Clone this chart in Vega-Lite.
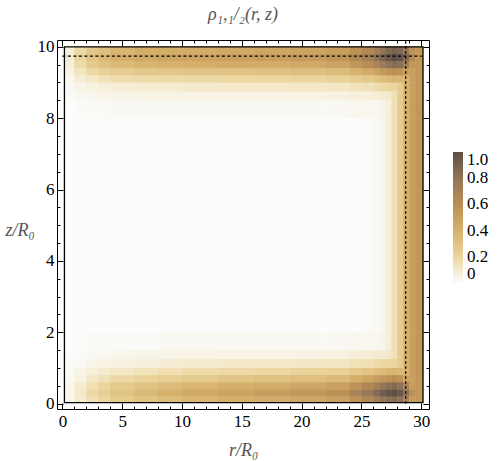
{
"$schema": "https://vega.github.io/schema/vega-lite/v6.json",
"width": 372, "height": 369,
"autosize": "none",
"padding": {"left": 57, "top": 40, "right": 70, "bottom": 52},
"background": "white",
"title": {"text": "ρ₁,₁/₂(r, z)", "font": "Liberation Serif", "fontSize": 18, "fontStyle": "italic", "fontWeight": "normal", "color": "#555555", "offset": 14, "anchor": "middle"},
"datasets": {
"density": [
{"r":0.17,"r2":1,"z":0.03,"z2":0.2,"v":0.03},{"r":1,"r2":2,"z":0.03,"z2":0.2,"v":0.09},{"r":2,"r2":3,"z":0.03,"z2":0.2,"v":0.15},{"r":3,"r2":4,"z":0.03,"z2":0.2,"v":0.2},{"r":4,"r2":6,"z":0.03,"z2":0.2,"v":0.26},{"r":6,"r2":8,"z":0.03,"z2":0.2,"v":0.3},{"r":8,"r2":10,"z":0.03,"z2":0.2,"v":0.34},{"r":10,"r2":13,"z":0.03,"z2":0.2,"v":0.37},{"r":13,"r2":16,"z":0.03,"z2":0.2,"v":0.41},{"r":16,"r2":19,"z":0.03,"z2":0.2,"v":0.43},{"r":19,"r2":22,"z":0.03,"z2":0.2,"v":0.46},{"r":22,"r2":24,"z":0.03,"z2":0.2,"v":0.5},{"r":24,"r2":25,"z":0.03,"z2":0.2,"v":0.58},{"r":25,"r2":26,"z":0.03,"z2":0.2,"v":0.65},{"r":26,"r2":26.5,"z":0.03,"z2":0.2,"v":0.72},{"r":26.5,"r2":27,"z":0.03,"z2":0.2,"v":0.78},{"r":27,"r2":27.5,"z":0.03,"z2":0.2,"v":0.82},{"r":27.5,"r2":28,"z":0.03,"z2":0.2,"v":0.85},{"r":28,"r2":28.5,"z":0.03,"z2":0.2,"v":0.81},{"r":28.5,"r2":29,"z":0.03,"z2":0.2,"v":0.68},{"r":29,"r2":29.5,"z":0.03,"z2":0.2,"v":0.51},{"r":29.5,"r2":30.15,"z":0.03,"z2":0.2,"v":0.55},
{"r":0.17,"r2":1,"z":0.2,"z2":0.4,"v":0.03},{"r":1,"r2":2,"z":0.2,"z2":0.4,"v":0.1},{"r":2,"r2":3,"z":0.2,"z2":0.4,"v":0.18},{"r":3,"r2":4,"z":0.2,"z2":0.4,"v":0.24},{"r":4,"r2":6,"z":0.2,"z2":0.4,"v":0.3},{"r":6,"r2":8,"z":0.2,"z2":0.4,"v":0.35},{"r":8,"r2":10,"z":0.2,"z2":0.4,"v":0.4},{"r":10,"r2":13,"z":0.2,"z2":0.4,"v":0.44},{"r":13,"r2":16,"z":0.2,"z2":0.4,"v":0.48},{"r":16,"r2":19,"z":0.2,"z2":0.4,"v":0.51},{"r":19,"r2":22,"z":0.2,"z2":0.4,"v":0.54},{"r":22,"r2":24,"z":0.2,"z2":0.4,"v":0.59},{"r":24,"r2":25,"z":0.2,"z2":0.4,"v":0.68},{"r":25,"r2":26,"z":0.2,"z2":0.4,"v":0.76},{"r":26,"r2":26.5,"z":0.2,"z2":0.4,"v":0.85},{"r":26.5,"r2":27,"z":0.2,"z2":0.4,"v":0.92},{"r":27,"r2":27.5,"z":0.2,"z2":0.4,"v":0.97},{"r":27.5,"r2":28,"z":0.2,"z2":0.4,"v":1.0},{"r":28,"r2":28.5,"z":0.2,"z2":0.4,"v":0.95},{"r":28.5,"r2":29,"z":0.2,"z2":0.4,"v":0.8},{"r":29,"r2":29.5,"z":0.2,"z2":0.4,"v":0.6},{"r":29.5,"r2":30.15,"z":0.2,"z2":0.4,"v":0.55},
{"r":0.17,"r2":1,"z":0.4,"z2":0.6,"v":0.03},{"r":1,"r2":2,"z":0.4,"z2":0.6,"v":0.09},{"r":2,"r2":3,"z":0.4,"z2":0.6,"v":0.15},{"r":3,"r2":4,"z":0.4,"z2":0.6,"v":0.2},{"r":4,"r2":6,"z":0.4,"z2":0.6,"v":0.26},{"r":6,"r2":8,"z":0.4,"z2":0.6,"v":0.3},{"r":8,"r2":10,"z":0.4,"z2":0.6,"v":0.34},{"r":10,"r2":13,"z":0.4,"z2":0.6,"v":0.37},{"r":13,"r2":16,"z":0.4,"z2":0.6,"v":0.41},{"r":16,"r2":19,"z":0.4,"z2":0.6,"v":0.43},{"r":19,"r2":22,"z":0.4,"z2":0.6,"v":0.46},{"r":22,"r2":24,"z":0.4,"z2":0.6,"v":0.5},{"r":24,"r2":25,"z":0.4,"z2":0.6,"v":0.58},{"r":25,"r2":26,"z":0.4,"z2":0.6,"v":0.65},{"r":26,"r2":26.5,"z":0.4,"z2":0.6,"v":0.72},{"r":26.5,"r2":27,"z":0.4,"z2":0.6,"v":0.78},{"r":27,"r2":27.5,"z":0.4,"z2":0.6,"v":0.82},{"r":27.5,"r2":28,"z":0.4,"z2":0.6,"v":0.85},{"r":28,"r2":28.5,"z":0.4,"z2":0.6,"v":0.81},{"r":28.5,"r2":29,"z":0.4,"z2":0.6,"v":0.68},{"r":29,"r2":29.5,"z":0.4,"z2":0.6,"v":0.51},{"r":29.5,"r2":30.15,"z":0.4,"z2":0.6,"v":0.55},
{"r":0.17,"r2":1,"z":0.6,"z2":0.8,"v":0.02},{"r":1,"r2":2,"z":0.6,"z2":0.8,"v":0.06},{"r":2,"r2":3,"z":0.6,"z2":0.8,"v":0.11},{"r":3,"r2":4,"z":0.6,"z2":0.8,"v":0.14},{"r":4,"r2":6,"z":0.6,"z2":0.8,"v":0.18},{"r":6,"r2":8,"z":0.6,"z2":0.8,"v":0.21},{"r":8,"r2":10,"z":0.6,"z2":0.8,"v":0.24},{"r":10,"r2":13,"z":0.6,"z2":0.8,"v":0.26},{"r":13,"r2":16,"z":0.6,"z2":0.8,"v":0.29},{"r":16,"r2":19,"z":0.6,"z2":0.8,"v":0.31},{"r":19,"r2":22,"z":0.6,"z2":0.8,"v":0.32},{"r":22,"r2":24,"z":0.6,"z2":0.8,"v":0.35},{"r":24,"r2":25,"z":0.6,"z2":0.8,"v":0.41},{"r":25,"r2":26,"z":0.6,"z2":0.8,"v":0.46},{"r":26,"r2":26.5,"z":0.6,"z2":0.8,"v":0.51},{"r":26.5,"r2":27,"z":0.6,"z2":0.8,"v":0.55},{"r":27,"r2":27.5,"z":0.6,"z2":0.8,"v":0.58},{"r":27.5,"r2":28,"z":0.6,"z2":0.8,"v":0.6},{"r":28,"r2":28.5,"z":0.6,"z2":0.8,"v":0.57},{"r":28.5,"r2":29,"z":0.6,"z2":0.8,"v":0.48},{"r":29,"r2":29.5,"z":0.6,"z2":0.8,"v":0.5},{"r":29.5,"r2":30.15,"z":0.6,"z2":0.8,"v":0.55},
{"r":0.17,"r2":1,"z":0.8,"z2":1,"v":0.01},{"r":1,"r2":2,"z":0.8,"z2":1,"v":0.04},{"r":2,"r2":3,"z":0.8,"z2":1,"v":0.07},{"r":3,"r2":4,"z":0.8,"z2":1,"v":0.09},{"r":4,"r2":6,"z":0.8,"z2":1,"v":0.11},{"r":6,"r2":8,"z":0.8,"z2":1,"v":0.13},{"r":8,"r2":10,"z":0.8,"z2":1,"v":0.15},{"r":10,"r2":13,"z":0.8,"z2":1,"v":0.17},{"r":13,"r2":16,"z":0.8,"z2":1,"v":0.18},{"r":16,"r2":19,"z":0.8,"z2":1,"v":0.19},{"r":19,"r2":22,"z":0.8,"z2":1,"v":0.21},{"r":22,"r2":24,"z":0.8,"z2":1,"v":0.22},{"r":24,"r2":25,"z":0.8,"z2":1,"v":0.26},{"r":25,"r2":26,"z":0.8,"z2":1,"v":0.29},{"r":26,"r2":26.5,"z":0.8,"z2":1,"v":0.32},{"r":26.5,"r2":27,"z":0.8,"z2":1,"v":0.35},{"r":27,"r2":27.5,"z":0.8,"z2":1,"v":0.37},{"r":27.5,"r2":28,"z":0.8,"z2":1,"v":0.38},{"r":28,"r2":28.5,"z":0.8,"z2":1,"v":0.36},{"r":28.5,"r2":29,"z":0.8,"z2":1,"v":0.39},{"r":29,"r2":29.5,"z":0.8,"z2":1,"v":0.5},{"r":29.5,"r2":30.15,"z":0.8,"z2":1,"v":0.55},
{"r":0.17,"r2":1,"z":1,"z2":1.25,"v":0.01},{"r":1,"r2":2,"z":1,"z2":1.25,"v":0.02},{"r":2,"r2":3,"z":1,"z2":1.25,"v":0.04},{"r":3,"r2":4,"z":1,"z2":1.25,"v":0.05},{"r":4,"r2":6,"z":1,"z2":1.25,"v":0.06},{"r":6,"r2":8,"z":1,"z2":1.25,"v":0.07},{"r":8,"r2":10,"z":1,"z2":1.25,"v":0.08},{"r":10,"r2":13,"z":1,"z2":1.25,"v":0.09},{"r":13,"r2":16,"z":1,"z2":1.25,"v":0.1},{"r":16,"r2":19,"z":1,"z2":1.25,"v":0.1},{"r":19,"r2":22,"z":1,"z2":1.25,"v":0.11},{"r":22,"r2":24,"z":1,"z2":1.25,"v":0.12},{"r":24,"r2":25,"z":1,"z2":1.25,"v":0.14},{"r":25,"r2":26,"z":1,"z2":1.25,"v":0.15},{"r":26,"r2":26.5,"z":1,"z2":1.25,"v":0.17},{"r":26.5,"r2":27,"z":1,"z2":1.25,"v":0.18},{"r":27,"r2":27.5,"z":1,"z2":1.25,"v":0.19},{"r":27.5,"r2":28,"z":1,"z2":1.25,"v":0.2},{"r":28,"r2":28.5,"z":1,"z2":1.25,"v":0.25},{"r":28.5,"r2":29,"z":1,"z2":1.25,"v":0.39},{"r":29,"r2":29.5,"z":1,"z2":1.25,"v":0.5},{"r":29.5,"r2":30.15,"z":1,"z2":1.25,"v":0.55},
{"r":0.17,"r2":1,"z":1.25,"z2":1.5,"v":0},{"r":1,"r2":2,"z":1.25,"z2":1.5,"v":0.01},{"r":2,"r2":3,"z":1.25,"z2":1.5,"v":0.02},{"r":3,"r2":4,"z":1.25,"z2":1.5,"v":0.02},{"r":4,"r2":6,"z":1.25,"z2":1.5,"v":0.03},{"r":6,"r2":8,"z":1.25,"z2":1.5,"v":0.04},{"r":8,"r2":10,"z":1.25,"z2":1.5,"v":0.04},{"r":10,"r2":13,"z":1.25,"z2":1.5,"v":0.04},{"r":13,"r2":16,"z":1.25,"z2":1.5,"v":0.05},{"r":16,"r2":19,"z":1.25,"z2":1.5,"v":0.05},{"r":19,"r2":22,"z":1.25,"z2":1.5,"v":0.05},{"r":22,"r2":24,"z":1.25,"z2":1.5,"v":0.06},{"r":24,"r2":25,"z":1.25,"z2":1.5,"v":0.07},{"r":25,"r2":26,"z":1.25,"z2":1.5,"v":0.08},{"r":26,"r2":26.5,"z":1.25,"z2":1.5,"v":0.09},{"r":26.5,"r2":27,"z":1.25,"z2":1.5,"v":0.09},{"r":27,"r2":27.5,"z":1.25,"z2":1.5,"v":0.1},{"r":27.5,"r2":28,"z":1.25,"z2":1.5,"v":0.14},{"r":28,"r2":28.5,"z":1.25,"z2":1.5,"v":0.25},{"r":28.5,"r2":29,"z":1.25,"z2":1.5,"v":0.39},{"r":29,"r2":29.5,"z":1.25,"z2":1.5,"v":0.5},{"r":29.5,"r2":30.15,"z":1.25,"z2":1.5,"v":0.55},
{"r":0.17,"r2":1,"z":1.5,"z2":2,"v":0},{"r":1,"r2":2,"z":1.5,"z2":2,"v":0},{"r":2,"r2":3,"z":1.5,"z2":2,"v":0.01},{"r":3,"r2":4,"z":1.5,"z2":2,"v":0.01},{"r":4,"r2":6,"z":1.5,"z2":2,"v":0.01},{"r":6,"r2":8,"z":1.5,"z2":2,"v":0.01},{"r":8,"r2":10,"z":1.5,"z2":2,"v":0.02},{"r":10,"r2":13,"z":1.5,"z2":2,"v":0.02},{"r":13,"r2":16,"z":1.5,"z2":2,"v":0.02},{"r":16,"r2":19,"z":1.5,"z2":2,"v":0.02},{"r":19,"r2":22,"z":1.5,"z2":2,"v":0.02},{"r":22,"r2":24,"z":1.5,"z2":2,"v":0.02},{"r":24,"r2":25,"z":1.5,"z2":2,"v":0.03},{"r":25,"r2":26,"z":1.5,"z2":2,"v":0.03},{"r":26,"r2":26.5,"z":1.5,"z2":2,"v":0.03},{"r":26.5,"r2":27,"z":1.5,"z2":2,"v":0.04},{"r":27,"r2":27.5,"z":1.5,"z2":2,"v":0.07},{"r":27.5,"r2":28,"z":1.5,"z2":2,"v":0.14},{"r":28,"r2":28.5,"z":1.5,"z2":2,"v":0.25},{"r":28.5,"r2":29,"z":1.5,"z2":2,"v":0.39},{"r":29,"r2":29.5,"z":1.5,"z2":2,"v":0.5},{"r":29.5,"r2":30.15,"z":1.5,"z2":2,"v":0.55},
{"r":0.17,"r2":25,"z":2,"z2":8,"v":0},{"r":25,"r2":26,"z":2,"z2":8,"v":0.01},{"r":26,"r2":26.5,"z":2,"z2":8,"v":0.02},{"r":26.5,"r2":27,"z":2,"z2":8,"v":0.03},{"r":27,"r2":27.5,"z":2,"z2":8,"v":0.07},{"r":27.5,"r2":28,"z":2,"z2":8,"v":0.14},{"r":28,"r2":28.5,"z":2,"z2":8,"v":0.25},{"r":28.5,"r2":29,"z":2,"z2":8,"v":0.39},{"r":29,"r2":29.5,"z":2,"z2":8,"v":0.5},{"r":29.5,"r2":30.15,"z":2,"z2":8,"v":0.55},
{"r":0.17,"r2":1,"z":8,"z2":8.5,"v":0},{"r":1,"r2":2,"z":8,"z2":8.5,"v":0.01},{"r":2,"r2":3,"z":8,"z2":8.5,"v":0.01},{"r":3,"r2":4,"z":8,"z2":8.5,"v":0.01},{"r":4,"r2":6,"z":8,"z2":8.5,"v":0.02},{"r":6,"r2":8,"z":8,"z2":8.5,"v":0.02},{"r":8,"r2":10,"z":8,"z2":8.5,"v":0.02},{"r":10,"r2":13,"z":8,"z2":8.5,"v":0.02},{"r":13,"r2":16,"z":8,"z2":8.5,"v":0.02},{"r":16,"r2":19,"z":8,"z2":8.5,"v":0.02},{"r":19,"r2":22,"z":8,"z2":8.5,"v":0.02},{"r":22,"r2":24,"z":8,"z2":8.5,"v":0.02},{"r":24,"r2":25,"z":8,"z2":8.5,"v":0.03},{"r":25,"r2":26,"z":8,"z2":8.5,"v":0.03},{"r":26,"r2":26.5,"z":8,"z2":8.5,"v":0.03},{"r":26.5,"r2":27,"z":8,"z2":8.5,"v":0.04},{"r":27,"r2":27.5,"z":8,"z2":8.5,"v":0.07},{"r":27.5,"r2":28,"z":8,"z2":8.5,"v":0.14},{"r":28,"r2":28.5,"z":8,"z2":8.5,"v":0.25},{"r":28.5,"r2":29,"z":8,"z2":8.5,"v":0.39},{"r":29,"r2":29.5,"z":8,"z2":8.5,"v":0.5},{"r":29.5,"r2":30.15,"z":8,"z2":8.5,"v":0.55},
{"r":0.17,"r2":1,"z":8.5,"z2":8.75,"v":0.01},{"r":1,"r2":2,"z":8.5,"z2":8.75,"v":0.02},{"r":2,"r2":3,"z":8.5,"z2":8.75,"v":0.03},{"r":3,"r2":4,"z":8.5,"z2":8.75,"v":0.04},{"r":4,"r2":6,"z":8.5,"z2":8.75,"v":0.04},{"r":6,"r2":8,"z":8.5,"z2":8.75,"v":0.05},{"r":8,"r2":10,"z":8.5,"z2":8.75,"v":0.05},{"r":10,"r2":13,"z":8.5,"z2":8.75,"v":0.05},{"r":13,"r2":16,"z":8.5,"z2":8.75,"v":0.05},{"r":16,"r2":19,"z":8.5,"z2":8.75,"v":0.05},{"r":19,"r2":22,"z":8.5,"z2":8.75,"v":0.05},{"r":22,"r2":24,"z":8.5,"z2":8.75,"v":0.06},{"r":24,"r2":25,"z":8.5,"z2":8.75,"v":0.07},{"r":25,"r2":26,"z":8.5,"z2":8.75,"v":0.07},{"r":26,"r2":26.5,"z":8.5,"z2":8.75,"v":0.08},{"r":26.5,"r2":27,"z":8.5,"z2":8.75,"v":0.09},{"r":27,"r2":27.5,"z":8.5,"z2":8.75,"v":0.1},{"r":27.5,"r2":28,"z":8.5,"z2":8.75,"v":0.14},{"r":28,"r2":28.5,"z":8.5,"z2":8.75,"v":0.25},{"r":28.5,"r2":29,"z":8.5,"z2":8.75,"v":0.39},{"r":29,"r2":29.5,"z":8.5,"z2":8.75,"v":0.5},{"r":29.5,"r2":30.15,"z":8.5,"z2":8.75,"v":0.55},
{"r":0.17,"r2":1,"z":8.75,"z2":9,"v":0.02},{"r":1,"r2":2,"z":8.75,"z2":9,"v":0.04},{"r":2,"r2":3,"z":8.75,"z2":9,"v":0.06},{"r":3,"r2":4,"z":8.75,"z2":9,"v":0.07},{"r":4,"r2":6,"z":8.75,"z2":9,"v":0.08},{"r":6,"r2":8,"z":8.75,"z2":9,"v":0.09},{"r":8,"r2":10,"z":8.75,"z2":9,"v":0.09},{"r":10,"r2":13,"z":8.75,"z2":9,"v":0.1},{"r":13,"r2":16,"z":8.75,"z2":9,"v":0.1},{"r":16,"r2":19,"z":8.75,"z2":9,"v":0.1},{"r":19,"r2":22,"z":8.75,"z2":9,"v":0.11},{"r":22,"r2":24,"z":8.75,"z2":9,"v":0.11},{"r":24,"r2":25,"z":8.75,"z2":9,"v":0.13},{"r":25,"r2":26,"z":8.75,"z2":9,"v":0.14},{"r":26,"r2":26.5,"z":8.75,"z2":9,"v":0.16},{"r":26.5,"r2":27,"z":8.75,"z2":9,"v":0.18},{"r":27,"r2":27.5,"z":8.75,"z2":9,"v":0.19},{"r":27.5,"r2":28,"z":8.75,"z2":9,"v":0.2},{"r":28,"r2":28.5,"z":8.75,"z2":9,"v":0.25},{"r":28.5,"r2":29,"z":8.75,"z2":9,"v":0.39},{"r":29,"r2":29.5,"z":8.75,"z2":9,"v":0.5},{"r":29.5,"r2":30.15,"z":8.75,"z2":9,"v":0.55},
{"r":0.17,"r2":1,"z":9,"z2":9.2,"v":0.03},{"r":1,"r2":2,"z":9,"z2":9.2,"v":0.08},{"r":2,"r2":3,"z":9,"z2":9.2,"v":0.11},{"r":3,"r2":4,"z":9,"z2":9.2,"v":0.14},{"r":4,"r2":6,"z":9,"z2":9.2,"v":0.16},{"r":6,"r2":8,"z":9,"z2":9.2,"v":0.17},{"r":8,"r2":10,"z":9,"z2":9.2,"v":0.18},{"r":10,"r2":13,"z":9,"z2":9.2,"v":0.18},{"r":13,"r2":16,"z":9,"z2":9.2,"v":0.19},{"r":16,"r2":19,"z":9,"z2":9.2,"v":0.19},{"r":19,"r2":22,"z":9,"z2":9.2,"v":0.2},{"r":22,"r2":24,"z":9,"z2":9.2,"v":0.22},{"r":24,"r2":25,"z":9,"z2":9.2,"v":0.25},{"r":25,"r2":26,"z":9,"z2":9.2,"v":0.27},{"r":26,"r2":26.5,"z":9,"z2":9.2,"v":0.3},{"r":26.5,"r2":27,"z":9,"z2":9.2,"v":0.33},{"r":27,"r2":27.5,"z":9,"z2":9.2,"v":0.36},{"r":27.5,"r2":28,"z":9,"z2":9.2,"v":0.38},{"r":28,"r2":28.5,"z":9,"z2":9.2,"v":0.37},{"r":28.5,"r2":29,"z":9,"z2":9.2,"v":0.39},{"r":29,"r2":29.5,"z":9,"z2":9.2,"v":0.5},{"r":29.5,"r2":30.15,"z":9,"z2":9.2,"v":0.55},
{"r":0.17,"r2":1,"z":9.2,"z2":9.4,"v":0.05},{"r":1,"r2":2,"z":9.2,"z2":9.4,"v":0.12},{"r":2,"r2":3,"z":9.2,"z2":9.4,"v":0.18},{"r":3,"r2":4,"z":9.2,"z2":9.4,"v":0.22},{"r":4,"r2":6,"z":9.2,"z2":9.4,"v":0.25},{"r":6,"r2":8,"z":9.2,"z2":9.4,"v":0.27},{"r":8,"r2":10,"z":9.2,"z2":9.4,"v":0.28},{"r":10,"r2":13,"z":9.2,"z2":9.4,"v":0.29},{"r":13,"r2":16,"z":9.2,"z2":9.4,"v":0.3},{"r":16,"r2":19,"z":9.2,"z2":9.4,"v":0.31},{"r":19,"r2":22,"z":9.2,"z2":9.4,"v":0.32},{"r":22,"r2":24,"z":9.2,"z2":9.4,"v":0.34},{"r":24,"r2":25,"z":9.2,"z2":9.4,"v":0.39},{"r":25,"r2":26,"z":9.2,"z2":9.4,"v":0.43},{"r":26,"r2":26.5,"z":9.2,"z2":9.4,"v":0.48},{"r":26.5,"r2":27,"z":9.2,"z2":9.4,"v":0.53},{"r":27,"r2":27.5,"z":9.2,"z2":9.4,"v":0.57},{"r":27.5,"r2":28,"z":9.2,"z2":9.4,"v":0.6},{"r":28,"r2":28.5,"z":9.2,"z2":9.4,"v":0.58},{"r":28.5,"r2":29,"z":9.2,"z2":9.4,"v":0.51},{"r":29,"r2":29.5,"z":9.2,"z2":9.4,"v":0.5},{"r":29.5,"r2":30.15,"z":9.2,"z2":9.4,"v":0.55},
{"r":0.17,"r2":1,"z":9.4,"z2":9.6,"v":0.07},{"r":1,"r2":2,"z":9.4,"z2":9.6,"v":0.17},{"r":2,"r2":3,"z":9.4,"z2":9.6,"v":0.26},{"r":3,"r2":4,"z":9.4,"z2":9.6,"v":0.31},{"r":4,"r2":6,"z":9.4,"z2":9.6,"v":0.35},{"r":6,"r2":8,"z":9.4,"z2":9.6,"v":0.38},{"r":8,"r2":10,"z":9.4,"z2":9.6,"v":0.4},{"r":10,"r2":13,"z":9.4,"z2":9.6,"v":0.41},{"r":13,"r2":16,"z":9.4,"z2":9.6,"v":0.43},{"r":16,"r2":19,"z":9.4,"z2":9.6,"v":0.43},{"r":19,"r2":22,"z":9.4,"z2":9.6,"v":0.45},{"r":22,"r2":24,"z":9.4,"z2":9.6,"v":0.48},{"r":24,"r2":25,"z":9.4,"z2":9.6,"v":0.55},{"r":25,"r2":26,"z":9.4,"z2":9.6,"v":0.61},{"r":26,"r2":26.5,"z":9.4,"z2":9.6,"v":0.68},{"r":26.5,"r2":27,"z":9.4,"z2":9.6,"v":0.75},{"r":27,"r2":27.5,"z":9.4,"z2":9.6,"v":0.81},{"r":27.5,"r2":28,"z":9.4,"z2":9.6,"v":0.85},{"r":28,"r2":28.5,"z":9.4,"z2":9.6,"v":0.82},{"r":28.5,"r2":29,"z":9.4,"z2":9.6,"v":0.72},{"r":29,"r2":29.5,"z":9.4,"z2":9.6,"v":0.55},{"r":29.5,"r2":30.15,"z":9.4,"z2":9.6,"v":0.55},
{"r":0.17,"r2":1,"z":9.6,"z2":9.8,"v":0.08},{"r":1,"r2":2,"z":9.6,"z2":9.8,"v":0.2},{"r":2,"r2":3,"z":9.6,"z2":9.8,"v":0.3},{"r":3,"r2":4,"z":9.6,"z2":9.8,"v":0.36},{"r":4,"r2":6,"z":9.6,"z2":9.8,"v":0.41},{"r":6,"r2":8,"z":9.6,"z2":9.8,"v":0.45},{"r":8,"r2":10,"z":9.6,"z2":9.8,"v":0.47},{"r":10,"r2":13,"z":9.6,"z2":9.8,"v":0.48},{"r":13,"r2":16,"z":9.6,"z2":9.8,"v":0.5},{"r":16,"r2":19,"z":9.6,"z2":9.8,"v":0.51},{"r":19,"r2":22,"z":9.6,"z2":9.8,"v":0.53},{"r":22,"r2":24,"z":9.6,"z2":9.8,"v":0.57},{"r":24,"r2":25,"z":9.6,"z2":9.8,"v":0.65},{"r":25,"r2":26,"z":9.6,"z2":9.8,"v":0.72},{"r":26,"r2":26.5,"z":9.6,"z2":9.8,"v":0.8},{"r":26.5,"r2":27,"z":9.6,"z2":9.8,"v":0.88},{"r":27,"r2":27.5,"z":9.6,"z2":9.8,"v":0.95},{"r":27.5,"r2":28,"z":9.6,"z2":9.8,"v":1.0},{"r":28,"r2":28.5,"z":9.6,"z2":9.8,"v":0.97},{"r":28.5,"r2":29,"z":9.6,"z2":9.8,"v":0.85},{"r":29,"r2":29.5,"z":9.6,"z2":9.8,"v":0.65},{"r":29.5,"r2":30.15,"z":9.6,"z2":9.8,"v":0.55},
{"r":0.17,"r2":1,"z":9.8,"z2":10,"v":0.07},{"r":1,"r2":2,"z":9.8,"z2":10,"v":0.18},{"r":2,"r2":3,"z":9.8,"z2":10,"v":0.27},{"r":3,"r2":4,"z":9.8,"z2":10,"v":0.32},{"r":4,"r2":6,"z":9.8,"z2":10,"v":0.37},{"r":6,"r2":8,"z":9.8,"z2":10,"v":0.41},{"r":8,"r2":10,"z":9.8,"z2":10,"v":0.42},{"r":10,"r2":13,"z":9.8,"z2":10,"v":0.43},{"r":13,"r2":16,"z":9.8,"z2":10,"v":0.45},{"r":16,"r2":19,"z":9.8,"z2":10,"v":0.46},{"r":19,"r2":22,"z":9.8,"z2":10,"v":0.48},{"r":22,"r2":24,"z":9.8,"z2":10,"v":0.51},{"r":24,"r2":25,"z":9.8,"z2":10,"v":0.59},{"r":25,"r2":26,"z":9.8,"z2":10,"v":0.65},{"r":26,"r2":26.5,"z":9.8,"z2":10,"v":0.72},{"r":26.5,"r2":27,"z":9.8,"z2":10,"v":0.79},{"r":27,"r2":27.5,"z":9.8,"z2":10,"v":0.86},{"r":27.5,"r2":28,"z":9.8,"z2":10,"v":0.9},{"r":28,"r2":28.5,"z":9.8,"z2":10,"v":0.87},{"r":28.5,"r2":29,"z":9.8,"z2":10,"v":0.77},{"r":29,"r2":29.5,"z":9.8,"z2":10,"v":0.59},{"r":29.5,"r2":30.15,"z":9.8,"z2":10,"v":0.55}
],
"box": [{"r": 0.17, "r2": 30.15, "z": 0.03, "z2": 10}],
"hline": [{"r": 0, "r2": 30.05, "z": 9.74}],
"vline": [{"r": 28.7, "z": 0, "z2": 10.19}]
},
"layer": [
{
"data": {"name": "density"},
"mark": {"type": "rect"},
"encoding": {
"x": {"field": "r", "type": "quantitative", "scale": {"domain": [-0.45, 30.65], "nice": false, "zero": false},
"axis": {"orient": "bottom", "values": [0,1,2,3,4,5,6,7,8,9,10,11,12,13,14,15,16,17,18,19,20,21,22,23,24,25,26,27,28,29,30],
"labelExpr": "datum.value % 5 == 0 ? format(datum.value, 'd') : ''",
"tickSize": {"condition": {"test": "datum.value % 5 == 0", "value": -6}, "value": -3},
"labelPadding": 10, "title": "r/R₀", "titlePadding": 9}},
"x2": {"field": "r2"},
"y": {"field": "z", "type": "quantitative", "scale": {"domain": [-0.15, 10.19], "nice": false, "zero": false},
"axis": {"orient": "left", "values": [0,0.5,1,1.5,2,2.5,3,3.5,4,4.5,5,5.5,6,6.5,7,7.5,8,8.5,9,9.5,10],
"labelExpr": "datum.value % 2 == 0 ? format(datum.value, 'd') : ''",
"tickSize": {"condition": {"test": "datum.value % 2 == 0", "value": -6}, "value": -3},
"labelPadding": 9, "title": "z/R₀", "titleAngle": 0, "titleX": -52, "titleY": 190, "titleAlign": "left", "titleBaseline": "middle"}},
"y2": {"field": "z2"},
"color": {"field": "v", "type": "quantitative",
"scale": {"domain": [0, 0.1, 0.2, 0.4, 0.6, 0.8, 1], "range": ["#fbfcfc", "#f4eacb", "#ebd59c", "#d6b16b", "#bb8f54", "#917458", "#5d4f45"], "interpolate": "rgb"},
"legend": {"type": "gradient", "orient": "none", "legendX": 396, "legendY": 112, "direction": "vertical", "gradientLength": 131, "gradientThickness": 10, "gradientStrokeWidth": 0,
"values": [0, 0.2, 0.4, 0.6, 0.8, 1], "labelExpr": "datum.value == 0 ? '0' : format(datum.value, '.1f')",
"labelFont": "Liberation Serif", "labelFontSize": 17, "labelColor": "black", "labelOffset": 4, "labelOverlap": false, "labelBaseline": "middle", "title": null}}
}
},
{
"data": {"name": "density"},
"mark": {"type": "rect"},
"encoding": {
"x": {"field": "r", "type": "quantitative", "axis": null},
"x2": {"field": "r2"},
"y": {"field": "z", "type": "quantitative", "axis": null},
"y2": {"field": "z2"},
"color": {"field": "v", "type": "quantitative"}
}
},
{
"data": {"name": "box"},
"mark": {"type": "rect", "fillOpacity": 0, "fill": "white", "stroke": "black", "strokeWidth": 1.3},
"encoding": {
"x": {"field": "r", "type": "quantitative",
"axis": {"orient": "top", "values": [0,1,2,3,4,5,6,7,8,9,10,11,12,13,14,15,16,17,18,19,20,21,22,23,24,25,26,27,28,29,30], "labels": false, "title": null,
"tickSize": {"condition": {"test": "datum.value % 5 == 0", "value": -6}, "value": -3}}},
"x2": {"field": "r2"},
"y": {"field": "z", "type": "quantitative",
"axis": {"orient": "right", "values": [0,0.5,1,1.5,2,2.5,3,3.5,4,4.5,5,5.5,6,6.5,7,7.5,8,8.5,9,9.5,10], "labels": false, "title": null,
"tickSize": {"condition": {"test": "datum.value % 2 == 0", "value": -6}, "value": -3}}},
"y2": {"field": "z2"}
}
},
{
"data": {"name": "hline"},
"mark": {"type": "rule", "color": "black", "strokeWidth": 1.3, "strokeDash": [3, 2.5]},
"encoding": {
"x": {"field": "r", "type": "quantitative", "axis": null},
"x2": {"field": "r2"},
"y": {"field": "z", "type": "quantitative", "axis": null}
}
},
{
"data": {"name": "vline"},
"mark": {"type": "rule", "color": "black", "strokeWidth": 1.3, "strokeDash": [2.5, 2.5]},
"encoding": {
"x": {"field": "r", "type": "quantitative", "axis": null},
"y": {"field": "z", "type": "quantitative", "axis": null},
"y2": {"field": "z2"}
}
}
],
"resolve": {"axis": {"x": "independent", "y": "independent"}},
"config": {
"view": {"stroke": "black", "strokeWidth": 1},
"axis": {"domain": false, "grid": false, "tickColor": "black", "tickWidth": 1,
"labelFont": "Liberation Serif", "labelFontSize": 17, "labelColor": "black",
"titleFont": "Liberation Serif", "titleFontSize": 18, "titleFontStyle": "italic", "titleFontWeight": "normal", "titleColor": "#555555",
"labelOverlap": false, "labelFlush": false, "labelBound": false}
}
}
